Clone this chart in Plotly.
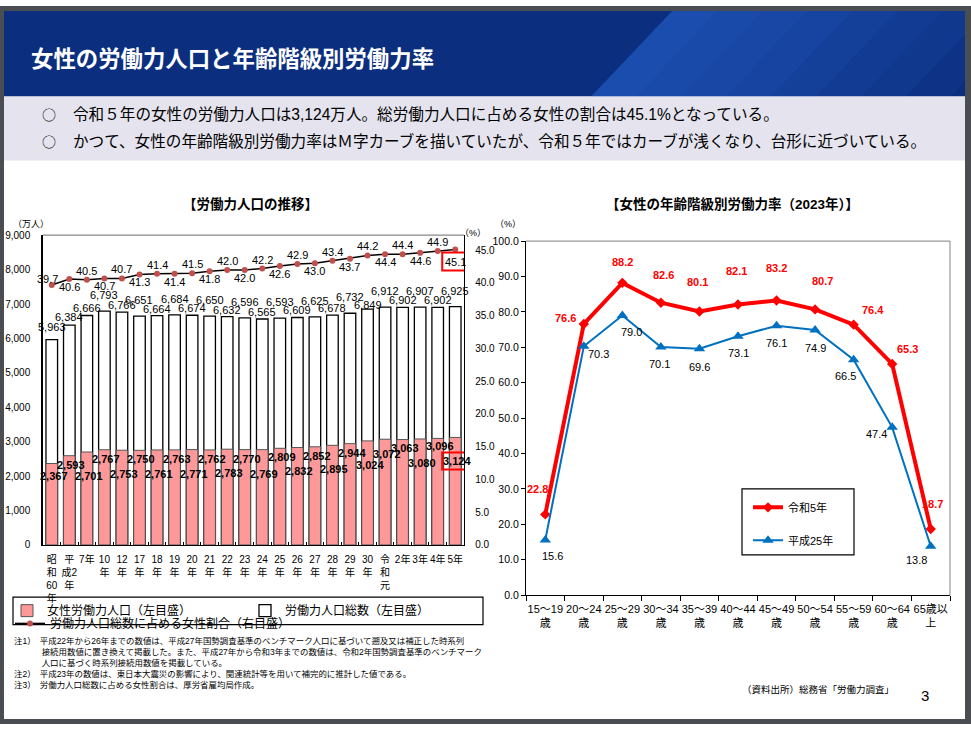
import plotly.graph_objects as go

W, H = 971, 730


def px(x):
    return x / W


def py(y):
    return 1 - y / H


FONT = "'Liberation Sans', Arial, 'Noto Sans CJK JP', sans-serif"
JPF = "'Noto Sans CJK JP', sans-serif"

# ---------------- data: left chart ----------------
years = ["昭和60年", "平成2年", "平成7年", "平成10年", "平成12年", "平成17年", "平成18年",
         "平成19年", "平成20年", "平成21年", "平成22年", "平成23年", "平成24年", "平成25年",
         "平成26年", "平成27年", "平成28年", "平成29年", "平成30年", "令和元年", "令和2年",
         "令和3年", "令和4年", "令和5年"]
year_ticks = ["昭<br>和<br>60<br>年", "平<br>成2<br>年", "7年", "10<br>年", "12<br>年", "17<br>年",
              "18<br>年", "19<br>年", "20<br>年", "21<br>年", "22<br>年", "23<br>年", "24<br>年",
              "25<br>年", "26<br>年", "27<br>年", "28<br>年", "29<br>年", "30<br>年",
              "令<br>和<br>元", "2年", "3年", "4年", "5年"]
total = [5963, 6384, 6666, 6793, 6766, 6651, 6664, 6684, 6674, 6650, 6632, 6596, 6565,
         6593, 6609, 6625, 6678, 6732, 6849, 6912, 6902, 6907, 6902, 6925]
female = [2367, 2593, 2701, 2767, 2753, 2750, 2761, 2763, 2771, 2762, 2783, 2770, 2769,
          2809, 2832, 2852, 2895, 2944, 3024, 3072, 3063, 3080, 3096, 3124]
ratio = [39.7, 40.6, 40.5, 40.7, 40.7, 41.3, 41.4, 41.4, 41.5, 41.8, 42.0, 42.0, 42.2,
         42.6, 42.9, 43.0, 43.4, 43.7, 44.2, 44.4, 44.4, 44.6, 44.9, 45.1]

# ---------------- data: right chart ----------------
ages = ["15～19歳", "20～24歳", "25～29歳", "30～34歳", "35～39歳", "40～44歳",
        "45～49歳", "50～54歳", "55～59歳", "60～64歳", "65歳以上"]
age_ticks = ["15～19<br>歳", "20～24<br>歳", "25～29<br>歳", "30～34<br>歳", "35～39<br>歳",
             "40～44<br>歳", "45～49<br>歳", "50～54<br>歳", "55～59<br>歳", "60～64<br>歳",
             "65歳以<br>上"]
rate_r5 = [22.8, 76.6, 88.2, 82.6, 80.1, 82.1, 83.2, 80.7, 76.4, 65.3, 18.7]
rate_h25 = [15.6, 70.3, 79.0, 70.1, 69.6, 73.1, 76.1, 74.9, 66.5, 47.4, 13.8]

# ---------------- label offsets (style only, px) ----------------
n = len(years)
total_lift = [13, 8, 8] + [16 if i % 2 else 7 for i in range(3, n)]
total_lift[18] = 4
female_drop = []
for i in range(n):
    if i == 0:
        female_drop.append(12)
    elif i < 20:
        female_drop.append(9 if i % 2 else 24)
    else:
        female_drop.append(24 if i % 2 else 8)
female_drop[19] = 15
ratio_shift = [9 if i % 2 == 0 else -8 for i in range(n)]
ratio_shift[0] = 6
ratio_shift[-1] = -12

r5_dx = [-8, -18, 0, 3, -2, -2, 0, 7, 19, 15, 2]
r5_dy = [25, 6, 21, 28, 30, 33, 33, 28, 15, 15, 25]
h25_dx = [7, 15, 9, -1, 0, 0, 0, 0, -8, -16, -14]
h25_dy = [-16, -8, -17, -17, -18, -17, -17, -18, -16, -7, -14]

fig = go.Figure()

# left chart
fig.add_trace(go.Bar(
    x=years, y=total, name="労働力人口総数（左目盛）", width=0.66,
    marker=dict(color="white", line=dict(color="black", width=1.3)),
    xaxis="x", yaxis="y", legend="legend", legendrank=2, hoverinfo="skip"))
fig.add_trace(go.Bar(
    x=years, y=female, name="女性労働力人口（左目盛）", width=0.66,
    marker=dict(color="#FF9999", line=dict(color="#555555", width=1)),
    xaxis="x", yaxis="y", legend="legend", legendrank=1, hoverinfo="skip"))
fig.add_trace(go.Scatter(
    x=years, y=ratio, name="労働力人口総数に占める女性割合（右目盛）", mode="lines+markers",
    line=dict(color="black", width=1.5),
    marker=dict(symbol="circle", size=6, color="#C0504D"),
    xaxis="x", yaxis="y2", legend="legend2", hoverinfo="skip"))

# right chart
fig.add_trace(go.Scatter(
    x=ages, y=rate_r5, name="令和5年", mode="lines+markers",
    line=dict(color="#FF0000", width=4),
    marker=dict(symbol="diamond", size=8, color="#FF0000"),
    xaxis="x2", yaxis="y3", legend="legend3", legendgroup="a", hoverinfo="skip"))
fig.add_trace(go.Scatter(
    x=ages, y=rate_h25, name="平成25年", mode="lines+markers",
    line=dict(color="#0070C0", width=2),
    marker=dict(symbol="triangle-up", size=10, color="#0070C0"),
    xaxis="x2", yaxis="y3", legend="legend3", legendgroup="b", hoverinfo="skip"))

ann = []
# value labels left chart
for i in range(n):
    ann.append(dict(x=years[i], y=total[i], xref="x", yref="y", text=f"{total[i]:,}",
                    showarrow=False, yshift=total_lift[i], yanchor="middle",
                    font=dict(size=11, color="black")))
    ann.append(dict(x=years[i], y=female[i], xref="x", yref="y", text=f"<b>{female[i]:,}</b>",
                    showarrow=False, yshift=-female_drop[i], xshift=2, yanchor="middle",
                    font=dict(size=11, color="black")))
    ann.append(dict(x=years[i], y=ratio[i], xref="x", yref="y2", text=f"{ratio[i]:.1f}",
                    showarrow=False, yshift=ratio_shift[i], xshift=(-4 if i == 0 else 0),
                    yanchor="middle", font=dict(size=11, color="black")))
# value labels right chart
for i in range(len(ages)):
    ann.append(dict(x=ages[i], y=rate_r5[i], xref="x2", yref="y3", text=f"<b>{rate_r5[i]:.1f}</b>",
                    showarrow=False, xshift=r5_dx[i], yshift=r5_dy[i], yanchor="middle",
                    font=dict(size=11, color="#FF0000")))
    ann.append(dict(x=ages[i], y=rate_h25[i], xref="x2", yref="y3", text=f"{rate_h25[i]:.1f}",
                    showarrow=False, xshift=h25_dx[i], yshift=h25_dy[i], yanchor="middle",
                    font=dict(size=11, color="black")))


def txt(x, y, s, size, color="black", xanchor="left", bold=False, family=FONT):
    if bold:
        s = f"<b>{s}</b>"
    ann.append(dict(x=px(x), y=py(y), xref="paper", yref="paper", text=s, showarrow=False,
                    xanchor=xanchor, yanchor="middle", align="left", borderpad=0,
                    font=dict(size=size, color=color, family=family)))


# header texts
txt(30, 52, "女性の労働力人口と年齢階級別労働力率", 22.4, "white", bold=True, family=JPF)
txt(41, 110, "○", 14, family=JPF)
txt(41, 137, "○", 14, family=JPF)
txt(72, 110, "令和５年の女性の労働力人口は3,124万人。総労働力人口に占める女性の割合は45.1%となっている。", 15.6)
txt(72, 137, "かつて、女性の年齢階級別労働力率はＭ字カーブを描いていたが、令和５年ではカーブが浅くなり、台形に近づいている。", 15.6)
# chart titles
txt(250, 201, "【労働力人口の推移】", 13.5, xanchor="center", bold=True)
txt(732, 201, "【女性の年齢階級別労働力率（2023年）】", 13.5, xanchor="center", bold=True)
txt(12, 222, "（万人）", 9)
txt(459, 231, "（%）", 9)
txt(494, 222, "（%）", 9)
# notes
NS = 8.45
txt(13, 646, "注1）　平成22年から26年までの数値は、平成27年国勢調査基準のベンチマーク人口に基づいて遡及又は補正した時系列", NS)
txt(13, 657, "　　　 接続用数値に置き換えて掲載した。また、平成27年から令和3年までの数値は、令和2年国勢調査基準のベンチマーク", NS)
txt(13, 668, "　　　 人口に基づく時系列接続用数値を掲載している。", NS)
txt(13, 679, "注2）　平成23年の数値は、東日本大震災の影響により、関連統計等を用いて補完的に推計した値である。", NS)
txt(13, 690, "注3）　労働力人口総数に占める女性割合は、厚労省雇均局作成。", NS)
txt(741, 695, "（資料出所）総務省「労働力調査」", 9.5)
txt(920, 701, "3", 15)

shapes = []


def rect(x0, y0, x1, y1, fill=None, line=None, lw=0, layer="below", opacity=1):
    shapes.append(dict(type="rect", xref="paper", yref="paper", x0=px(x0), x1=px(x1),
                       y0=py(y1), y1=py(y0), fillcolor=fill or "rgba(0,0,0,0)",
                       line=dict(color=line or "rgba(0,0,0,0)", width=lw), layer=layer,
                       opacity=opacity))


def poly(points, fill, opacity=1):
    d = "M" + " L".join(f"{px(a):.5f},{py(b):.5f}" for a, b in points) + " Z"
    shapes.append(dict(type="path", xref="paper", yref="paper", path=d, fillcolor=fill,
                       line=dict(width=0), layer="below", opacity=opacity))


# banner and band
rect(0, 0, 971, 92, fill="#0B2E7E")
for k in range(1, 9):
    L = 45 * k
    poly([(672, 5), (672 + L, 5), (591 + L, 92), (591, 92)], "#2A6BDA", opacity=0.09)
rect(0, 92, 971, 157, fill="#E5E4EE")
# frame
rect(0, 0, 971, 5, fill="#4A4D51", layer="above")
rect(0, 0, 4, 730, fill="#4A4D51", layer="above")
rect(965, 0, 971, 730, fill="#4A4D51", layer="above")
rect(0, 725, 971, 730, fill="#4A4D51", layer="above")
# plot borders (top/right)
shapes.append(dict(type="line", xref="paper", yref="paper", x0=px(43), x1=px(464), y0=py(233), y1=py(233),
                   line=dict(color="#888888", width=1.2)))
shapes.append(dict(type="line", xref="paper", yref="paper", x0=px(526), x1=px(950), y0=py(239), y1=py(239),
                   line=dict(color="#999999", width=1.2)))
shapes.append(dict(type="line", xref="paper", yref="paper", x0=px(950), x1=px(950), y0=py(599), y1=py(239),
                   line=dict(color="#999999", width=1.2)))
# legend boxes
rect(13, 601, 483, 629, line="black", lw=1.2, layer="above")
rect(742, 491, 854, 558, line="black", lw=1.2, layer="above")
# red highlight boxes, anchored to the last data points
shapes.append(dict(type="rect", xref="x", yref="y2", xsizemode="pixel", ysizemode="pixel",
                   xanchor=years[-1], yanchor=ratio[-1], x0=-13, x1=13, y0=-21, y1=-3,
                   line=dict(color="#FF0000", width=2)))
shapes.append(dict(type="rect", xref="x", yref="y", xsizemode="pixel", ysizemode="pixel",
                   xanchor=years[-1], yanchor=female[-1], x0=-13, x1=16, y0=-32, y1=-15,
                   line=dict(color="#FF0000", width=2)))

fig.update_layout(
    width=W, height=H, margin=dict(l=0, r=0, t=0, b=0),
    paper_bgcolor="white", plot_bgcolor="white", barmode="overlay",
    font=dict(family=FONT, size=10, color="black"),
    showlegend=True,
    xaxis=dict(domain=[px(43), px(464)], anchor="y", type="category", range=[-0.5, n - 0.5],
               tickvals=years, ticktext=year_ticks, tickangle=0, showline=True, linecolor="black",
               linewidth=1.3, ticks="inside", tickson="boundaries", ticklen=3, tickcolor="black",
               showgrid=False, tickfont=dict(size=10), ticklabelstandoff=5),
    yaxis=dict(domain=[py(548), py(233)], anchor="x", range=[0, 9000], dtick=1000, tickformat=",",
               showline=True, linecolor="black", linewidth=1.5, showgrid=False, zeroline=False,
               ticks="", ticklabelstandoff=9, tickfont=dict(size=10)),
    yaxis2=dict(overlaying="y", side="right", anchor="x", range=[0, 47.3], dtick=5, tickformat=".1f",
                showline=True, linecolor="black", linewidth=1.3, showgrid=False, zeroline=False,
                ticks="", ticklabelstandoff=8, tickfont=dict(size=10)),
    xaxis2=dict(domain=[px(526), px(950)], anchor="y3", type="category", range=[-0.5, 10.5],
                tickvals=ages, ticktext=age_ticks, tickangle=0, showline=True, linecolor="black",
                linewidth=1.3, ticks="outside", tickson="boundaries", ticklen=5, tickcolor="black",
                showgrid=False, tickfont=dict(size=11), ticklabelstandoff=3),
    yaxis3=dict(domain=[py(599), py(239)], anchor="x2", range=[0, 100], dtick=10, tickformat=".1f",
                showline=True, linecolor="black", linewidth=1.3, showgrid=False, zeroline=False,
                ticks="outside", ticklen=4, tickcolor="black", tickfont=dict(size=10.5)),
    legend=dict(x=px(7), y=py(600), xanchor="left", yanchor="top", orientation="h",
                entrywidth=193, entrywidthmode="pixels", font=dict(size=12),
                bgcolor="rgba(0,0,0,0)", traceorder="normal", itemclick=False),
    legend2=dict(x=px(10), y=py(613), xanchor="left", yanchor="top", orientation="h",
                 font=dict(size=12), bgcolor="rgba(0,0,0,0)"),
    legend3=dict(x=px(748), y=py(495), xanchor="left", yanchor="top", orientation="v",
                 font=dict(size=11), bgcolor="rgba(0,0,0,0)", tracegroupgap=14),
    annotations=ann, shapes=shapes,
)

fig.write_html("out.html", config={"displayModeBar": False},
               post_script="document.body.style.margin='0px';")
